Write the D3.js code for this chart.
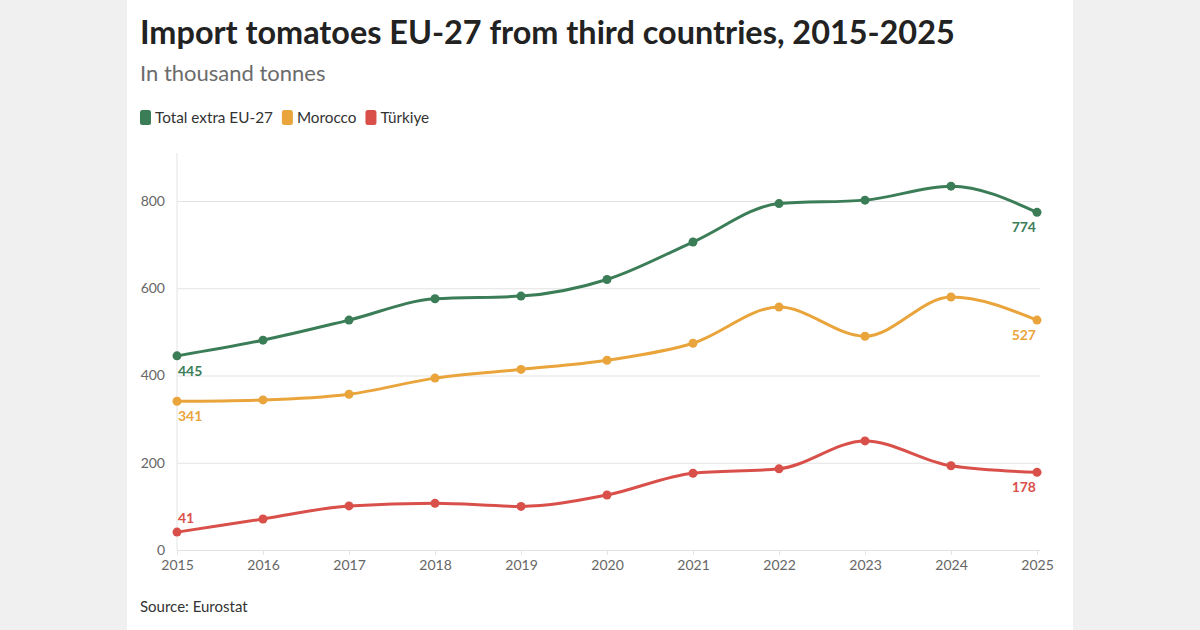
<!DOCTYPE html>
<html>
<head>
<meta charset="utf-8">
<script src="https://cdn.jsdelivr.net/npm/d3@7"></script>
<style>
  body { margin: 0; background: #f0f0f0; }
  #chart { width: 1200px; height: 630px; }
  text { font-family: "Source Sans Pro", Lato, "Noto Sans", sans-serif; }
</style>
</head>
<body>
<div id="chart"></div>
<script>
// Data (thousand tonnes)
const years = [2015, 2016, 2017, 2018, 2019, 2020, 2021, 2022, 2023, 2024, 2025];
const totalExtra = [445, 481, 527, 576, 582, 620, 706, 794, 802, 834, 774];
const morocco = [341, 344, 357, 394, 414, 435, 474, 557, 490, 580, 527];
const turkiye = [41, 71, 101, 107, 100, 126, 176, 186, 250, 193, 178];
const yTicks = [0, 200, 400, 600, 800];

const seriesNames = ["Total extra EU-27", "Morocco", "Türkiye"];
const seriesColors = {
    "Total extra EU-27": "#3b7d57",
    "Morocco": "#e9a53c",
    "Türkiye": "#d9504b"
};
const series = [
    { name: "Total extra EU-27", values: totalExtra, startLabel: "below" },
    { name: "Morocco", values: morocco, startLabel: "below" },
    { name: "Türkiye", values: turkiye, startLabel: "above" }
];

const svg = d3.select("#chart").append("svg")
    .attr("width", 1200)
    .attr("height", 630);

// white card
svg.append("rect")
    .attr("x", 127).attr("y", 0)
    .attr("width", 946).attr("height", 630)
    .attr("fill", "#fff");

// header
svg.append("text")
    .attr("x", 140).attr("y", 44)
    .style("font-size", "32.4px")
    .style("font-weight", "700")
    .attr("fill", "#222")
    .text("Import tomatoes EU-27 from third countries, 2015-2025");

svg.append("text")
    .attr("x", 140).attr("y", 81)
    .style("font-size", "22px")
    .attr("fill", "#6b6b6b")
    .text("In thousand tonnes");

// legend
let lx = 140;
seriesNames.forEach(name => {
    svg.append("rect")
        .attr("x", lx).attr("y", 110)
        .attr("width", 11).attr("height", 15)
        .attr("rx", 2.5)
        .attr("fill", seriesColors[name]);
    const t = svg.append("text")
        .attr("x", lx + 15).attr("y", 122.5)
        .style("font-size", "15.3px")
        .attr("fill", "#333")
        .text(name);
    lx += 15 + t.node().getComputedTextLength() + 9;
});

// scales
const x = d3.scalePoint().domain(years).range([177, 1037]);
const y = d3.scaleLinear().domain([0, 800]).range([550, 201]);

// gridlines + y labels
const yAxis = svg.append("g")
    .attr("transform", "translate(177,0)")
    .call(d3.axisLeft(y).tickValues(yTicks).tickSize(-863).tickPadding(12));
yAxis.select(".domain").remove();
yAxis.selectAll(".tick line").attr("stroke", "#e3e3e3");
yAxis.selectAll(".tick text")
    .attr("fill", "#666")
    .style("font-size", "14px")
    .style("font-family", "'Source Sans Pro', Lato, 'Noto Sans', sans-serif");

// left vertical axis line
svg.append("line")
    .attr("x1", 177).attr("x2", 177)
    .attr("y1", 153).attr("y2", 550)
    .attr("stroke", "#e3e3e3");

// x axis
const xAxis = svg.append("g")
    .attr("transform", "translate(0,550)")
    .call(d3.axisBottom(x).tickSize(5).tickPadding(5));
xAxis.select(".domain").attr("stroke", "#e3e3e3");
xAxis.selectAll(".tick line").attr("stroke", "#e3e3e3");
xAxis.selectAll(".tick text")
    .attr("fill", "#666")
    .style("font-size", "14px")
    .style("font-family", "'Source Sans Pro', Lato, 'Noto Sans', sans-serif");

// lines
const line = d3.line()
    .x((d, i) => x(years[i]))
    .y(d => y(d))
    .curve(d3.curveMonotoneX);

series.forEach(s => {
    const col = seriesColors[s.name];
    svg.append("path")
        .datum(s.values)
        .attr("fill", "none")
        .attr("stroke", col)
        .attr("stroke-width", 3)
        .attr("d", line);

    svg.selectAll(null)
        .data(s.values)
        .enter().append("circle")
        .attr("cx", (d, i) => x(years[i]))
        .attr("cy", d => y(d))
        .attr("r", 4.5)
        .attr("fill", col);

    // start label
    const first = s.values[0];
    svg.append("text")
        .attr("x", x(years[0]) + 1)
        .attr("y", s.startLabel === "below" ? y(first) + 20 : y(first) - 9)
        .style("font-size", "14px")
        .style("font-weight", "700")
        .attr("fill", col)
        .text(first);

    // end label
    const last = s.values[s.values.length - 1];
    svg.append("text")
        .attr("x", x(years[years.length - 1]) - 1)
        .attr("y", y(last) + 20)
        .attr("text-anchor", "end")
        .style("font-size", "14px")
        .style("font-weight", "700")
        .attr("fill", col)
        .text(last);
});

// source
svg.append("text")
    .attr("x", 140).attr("y", 612)
    .style("font-size", "15px")
    .attr("fill", "#333")
    .text("Source: Eurostat");
</script>
</body>
</html>
